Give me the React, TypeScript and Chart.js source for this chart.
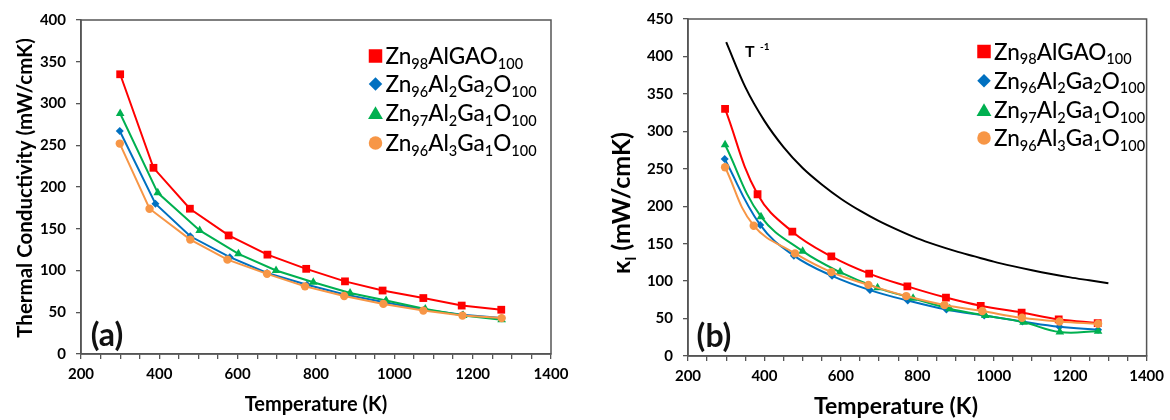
import React, { useEffect, useRef } from 'react';
import { Chart, registerables } from 'chart.js';
Chart.register(...registerables);

const FONT = 'Lato, "Open Sans", "DejaVu Sans", sans-serif';
const AXIS = '#555555';

const seriesNames = [
  'Zn_{98}AlGAO_{100}',
  'Zn_{96}Al_{2}Ga_{2}O_{100}',
  'Zn_{97}Al_{2}Ga_{1}O_{100}',
  'Zn_{96}Al_{3}Ga_{1}O_{100}',
];
const seriesColors = ['#ff0000', '#0070c0', '#00b050', '#f79646'];
const seriesShapes = ['rect', 'rectRot', 'triangle', 'circle'];
const seriesRadii = [5.5, 4, 5, 4.2];

const xTickLabels = [200, 400, 600, 800, 1000, 1200, 1400];

// Panel (a): total thermal conductivity
const tempA_1 = [300, 385, 478, 577, 676, 775, 874, 970, 1074, 1172, 1273];
const valA_1 = [335, 223, 174, 142, 119, 102, 87, 76, 67, 58, 53];
const tempA_2 = [299, 390, 479, 580, 675, 777, 876, 975, 1076, 1174, 1274];
const valA_2 = [267, 180, 141, 116, 97, 83, 71, 62, 53, 47, 43];
const tempA_3 = [300, 396, 503, 602, 698, 793, 887, 979, 1079, 1176, 1274];
const valA_3 = [288, 193, 148, 120, 100, 86, 73, 64, 54, 46, 41];
const tempA_4 = [299, 375, 479, 574, 675, 772, 872, 972, 1074, 1174, 1274];
const valA_4 = [252, 174, 137, 113, 96, 81, 69.5, 60, 52, 46, 43];

// Panel (b): lattice thermal conductivity
const tempB_1 = [297, 382, 473, 575, 674, 774, 875, 966, 1073, 1170, 1272];
const valB_1 = [330, 216, 166, 133, 110, 93, 78, 67, 58, 49, 44];
const tempB_2 = [296, 389, 477, 577, 676, 775, 876, 975, 1075, 1172, 1273];
const valB_2 = [263, 175, 134, 107, 88, 74, 62, 54, 46, 39, 35];
const tempB_3 = [297, 391, 500, 598, 696, 789, 885, 978, 1078, 1173, 1273];
const valB_3 = [282, 186, 140, 112, 91, 77, 63, 54, 45, 32, 33];
const tempB_4 = [297, 372, 480, 575, 672, 771, 871, 970, 1074, 1172, 1273];
const valB_4 = [252, 174, 137, 112, 95, 80, 68, 60, 51, 46, 43];

// T^-1 guide curve
const tempGuide = [300, 350, 400, 450, 500, 550, 600, 650, 700, 750, 800, 850, 900, 950, 1000, 1050, 1100, 1150, 1200, 1250, 1300];
const valGuide = [419, 359, 314, 279, 251, 229, 210, 194, 180, 168, 157, 148, 140, 133, 126, 120, 114.5, 109.5, 105, 101, 97];

type Part = { t: string; sub: boolean };
function parseRich(s: string): Part[] {
  const parts: Part[] = [];
  const re = /_\{([^}]*)\}/g;
  let last = 0;
  let m: RegExpExecArray | null;
  while ((m = re.exec(s))) {
    if (m.index > last) parts.push({ t: s.slice(last, m.index), sub: false });
    parts.push({ t: m[1], sub: true });
    last = re.lastIndex;
  }
  if (last < s.length) parts.push({ t: s.slice(last), sub: false });
  return parts;
}

function richWidth(ctx: CanvasRenderingContext2D, parts: Part[], main: number, sub: number, weight: string) {
  let w = 0;
  for (const p of parts) {
    ctx.font = `${weight} ${p.sub ? sub : main}px ${FONT}`;
    w += ctx.measureText(p.t).width;
  }
  return w;
}

function drawRich(ctx: CanvasRenderingContext2D, parts: Part[], x: number, y: number, main: number, sub: number, off: number, weight: string) {
  ctx.textAlign = 'left';
  ctx.textBaseline = 'alphabetic';
  for (const p of parts) {
    ctx.font = `${weight} ${p.sub ? sub : main}px ${FONT}`;
    ctx.fillText(p.t, x, p.sub ? y + off : y);
    x += ctx.measureText(p.t).width;
  }
}

function drawMarker(ctx: CanvasRenderingContext2D, shape: string, x: number, y: number, s: number, color: string) {
  ctx.fillStyle = color;
  ctx.beginPath();
  if (shape === 'rect') ctx.rect(x - s / 2, y - s / 2, s, s);
  else if (shape === 'rectRot') {
    ctx.moveTo(x, y - s / 2);
    ctx.lineTo(x + s / 2, y);
    ctx.lineTo(x, y + s / 2);
    ctx.lineTo(x - s / 2, y);
    ctx.closePath();
  } else if (shape === 'triangle') {
    ctx.moveTo(x, y - s * 0.5);
    ctx.lineTo(x + s * 0.55, y + s * 0.45);
    ctx.lineTo(x - s * 0.55, y + s * 0.45);
    ctx.closePath();
  } else ctx.arc(x, y, s / 2, 0, Math.PI * 2);
  ctx.fill();
}

type PanelCfg = {
  temps: number[][];
  vals: number[][];
  smooth: number;
  yMax: number;
  pad: { top: number; right: number };
  yWidth: number;
  xHeight: number;
  legendX: number;
  legendY: number[];
  tag: string;
  tagPos: [number, number];
  xTitle: { x: number; y: number; size: number };
  yTitle: { text: string; x: number; y: number; size: number; sub: number };
  guide?: boolean;
};

function makeConfig(cfg: PanelCfg): any {
  const datasets: any[] = cfg.temps.map((ts, si) => ({
    label: seriesNames[si].replace(/_\{|\}/g, ''),
    data: ts.map((t, i) => ({ x: t, y: cfg.vals[si][i] })),
    borderColor: seriesColors[si],
    backgroundColor: seriesColors[si],
    borderWidth: 2,
    pointStyle: seriesShapes[si],
    pointRadius: seriesRadii[si],
    pointBorderWidth: 0,
    pointBackgroundColor: seriesColors[si],
    tension: cfg.smooth,
    order: 4 - si,
  }));
  if (cfg.guide) {
    datasets.push({
      label: 'T-1',
      data: tempGuide.map((t, i) => ({ x: t, y: valGuide[i] })),
      borderColor: '#000',
      borderWidth: 2,
      pointRadius: 0,
      cubicInterpolationMode: 'monotone',
    });
  }
  const plugin = {
    id: 'panelDecor',
    beforeDatasetsDraw(chart: any) {
      const { ctx, chartArea: a } = chart;
      ctx.save();
      ctx.strokeStyle = AXIS;
      ctx.lineWidth = 1.5;
      ctx.strokeRect(a.left, a.top, a.right - a.left, a.bottom - a.top);
      ctx.restore();
    },
    afterDraw(chart: any) {
      const ctx: CanvasRenderingContext2D = chart.ctx;
      ctx.save();
      // legend
      seriesNames.forEach((n, i) => {
        const y = cfg.legendY[i];
        drawMarker(ctx, seriesShapes[i], cfg.legendX, y, 13.5, seriesColors[i]);
        ctx.fillStyle = '#000';
        drawRich(ctx, parseRich(n), cfg.legendX + 10, y + 8, 22.5, 14.5, 4.5, '500');
      });
      // panel tag
      ctx.fillStyle = '#111';
      ctx.font = `bold 32px ${FONT}`;
      ctx.textAlign = 'center';
      ctx.textBaseline = 'middle';
      ctx.fillText(cfg.tag, cfg.tagPos[0], cfg.tagPos[1]);
      // x title
      ctx.fillStyle = '#000';
      ctx.font = `bold ${cfg.xTitle.size}px ${FONT}`;
      ctx.fillText('Temperature (K)', cfg.xTitle.x, cfg.xTitle.y);
      // y title
      const yt = cfg.yTitle;
      const parts = parseRich(yt.text);
      const w = richWidth(ctx, parts, yt.size, yt.sub, 'bold');
      ctx.translate(yt.x, yt.y);
      ctx.rotate(-Math.PI / 2);
      drawRich(ctx, parts, -w / 2, yt.size * 0.36, yt.size, yt.sub, yt.size * 0.25, 'bold');
      ctx.setTransform(1, 0, 0, 1, 0, 0);
      if (cfg.guide) {
        ctx.fillStyle = '#000';
        ctx.textAlign = 'left';
        ctx.textBaseline = 'alphabetic';
        ctx.font = `bold 16px ${FONT}`;
        ctx.fillText('T', 165, 57);
        ctx.font = `bold 10px ${FONT}`;
        ctx.fillText('-1', 180, 50);
      }
      ctx.restore();
    },
  };
  const tickFont = { family: FONT, size: 15, weight: 'bold' as const };
  return {
    type: 'line',
    data: { datasets },
    options: {
      animation: false,
      responsive: false,
      maintainAspectRatio: false,
      layout: { padding: { left: 0, top: cfg.pad.top, right: cfg.pad.right, bottom: 0 } },
      plugins: { legend: { display: false }, tooltip: { enabled: false } },
      scales: {
        x: {
          type: 'linear',
          min: 200,
          max: 1400,
          afterFit: (s: any) => { s.height = cfg.xHeight; },
          ticks: {
            stepSize: 50,
            autoSkip: false,
            maxRotation: 0,
            color: '#000',
            font: tickFont,
            padding: 6,
            callback: (v: number) => (xTickLabels.includes(v) ? String(v) : ''),
          },
          grid: { drawOnChartArea: false, drawTicks: true, tickLength: 5, color: AXIS, lineWidth: 1.3 },
          border: { display: true, color: AXIS, width: 1.5 },
        },
        y: {
          type: 'linear',
          min: 0,
          max: cfg.yMax,
          afterFit: (s: any) => { s.width = cfg.yWidth; },
          ticks: { stepSize: 50, color: '#000', font: tickFont, padding: 10 },
          grid: { drawOnChartArea: false, drawTicks: true, tickLength: 5, color: AXIS, lineWidth: 1.3 },
          border: { display: true, color: AXIS, width: 1.5 },
        },
      },
    },
    plugins: [plugin],
  };
}

const cfgA: PanelCfg = {
  temps: [tempA_1, tempA_2, tempA_3, tempA_4],
  vals: [valA_1, valA_2, valA_3, valA_4],
  smooth: 0,
  yMax: 400,
  pad: { top: 20, right: 29 },
  yWidth: 81,
  xHeight: 66,
  legendX: 375.5,
  legendY: [56, 84, 113, 143],
  tag: '(a)',
  tagPos: [107, 336],
  xTitle: { x: 316, y: 405, size: 20 },
  yTitle: { text: 'Thermal Conductivity (mW/cmK)', x: 25, y: 188, size: 20.5, sub: 13 },
};

const cfgB: PanelCfg = {
  temps: [tempB_1, tempB_2, tempB_3, tempB_4],
  vals: [valB_1, valB_2, valB_3, valB_4],
  smooth: 0.4,
  yMax: 450,
  pad: { top: 19, right: 19 },
  yWidth: 108,
  xHeight: 64,
  legendX: 404,
  legendY: [51.5, 80.7, 110, 138],
  tag: '(b)',
  tagPos: [134, 337],
  xTitle: { x: 316, y: 407, size: 23 },
  yTitle: { text: 'κ_{l} (mW/cmK)', x: 41, y: 203, size: 25, sub: 15 },
  guide: true,
};

function Panel({ cfg, left, width }: { cfg: PanelCfg; left: number; width: number }) {
  const ref = useRef<HTMLCanvasElement>(null);
  useEffect(() => {
    if (!ref.current) return;
    const chart = new Chart(ref.current, makeConfig(cfg));
    return () => chart.destroy();
  }, []);
  return (
    <canvas
      ref={ref}
      width={width}
      height={420}
      style={{ position: 'absolute', left, top: 0, width, height: 420 }}
    />
  );
}

export default function App() {
  Chart.defaults.font.family = FONT;
  return (
    <div style={{ position: 'fixed', left: 0, top: 0, width: 1170, height: 420, background: '#fff' }}>
      <Panel cfg={cfgA} left={0} width={580} />
      <Panel cfg={cfgB} left={580} width={590} />
    </div>
  );
}
